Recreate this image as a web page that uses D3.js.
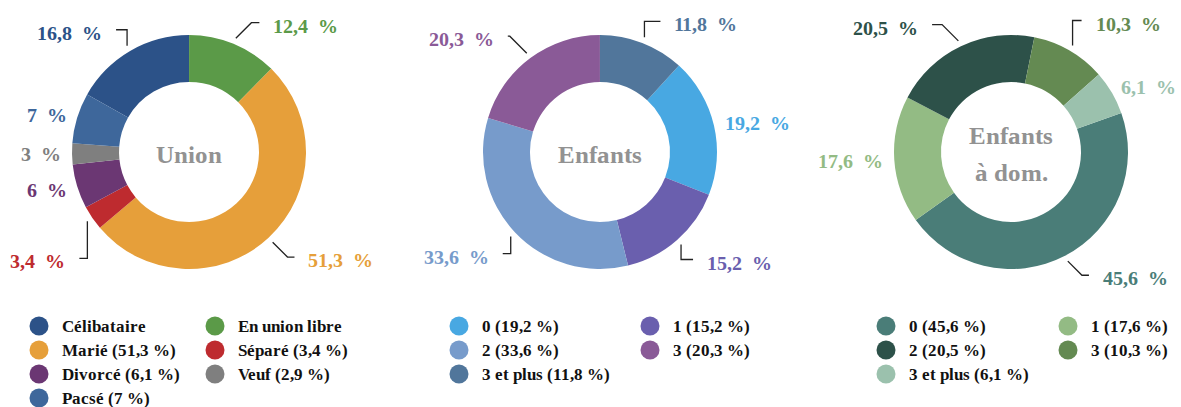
<!DOCTYPE html>
<html>
<head>
<meta charset="utf-8">
<script src="https://cdn.jsdelivr.net/npm/d3@7"></script>
<style>
  @font-face { font-family: "CMLike"; src: local("Liberation Serif Bold"), local("LiberationSerif-Bold"); font-weight: bold; }
  @font-face { font-family: "CMLike"; src: local("Liberation Serif Bold"), local("LiberationSerif-Bold"); font-weight: normal; }
</style>
</head>
<body style="margin:0">
<svg id="donuts" width="1181" height="407"></svg>
<script>
// --- Union
var unionNames = ["Célibataire", "En union libre", "Marié", "Séparé", "Divorcé", "Veuf", "Pacsé"];
var unionValues = [16.8, 12.4, 51.3, 3.4, 6.1, 2.9, 7];
var unionLabels = ["16,8 %", "12,4 %", "51,3 %", "3,4 %", "6 %", "3 %", "7 %"];
var unionLegend = ["Célibataire", "En union libre", "Marié (51,3 %)", "Séparé (3,4 %)",
    "Divorcé (6,1 %)", "Veuf (2,9 %)", "Pacsé (7 %)"];

// --- Enfants
var enfantsNames = ["0", "1", "2", "3", "3 et plus"];
var enfantsValues = [19.2, 15.2, 33.6, 20.3, 11.8];
var enfantsLabels = ["19,2 %", "15,2 %", "33,6 %", "20,3 %", "11,8 %"];
var enfantsLegend = ["0 (19,2 %)", "1 (15,2 %)", "2 (33,6 %)", "3 (20,3 %)", "3 et plus (11,8 %)"];

// --- Enfants à domicile
var domNames = ["0", "1", "2", "3", "3 et plus"];
var domValues = [45.6, 17.6, 20.5, 10.3, 6.1];
var domLabels = ["45,6 %", "17,6 %", "20,5 %", "10,3 %", "6,1 %"];
var domLegend = ["0 (45,6 %)", "1 (17,6 %)", "2 (20,5 %)", "3 (10,3 %)", "3 et plus (6,1 %)"];

var charts = [
    {
        title: ["Union"], names: unionNames, values: unionValues, labels: unionLabels, legend: unionLegend,
        colors: ["#2c5288", "#5b9a48", "#e69f3a", "#be2b2f", "#6b3773", "#7f7f7f", "#3e679b"],
        start: -60.5,
        // leader line: [kind, length, horizontal tail]
        leaders: [["v", 16, 11], ["d", 22, 8], ["d", 21, 7], ["v", 37, 8], null, null, null],
        legendX: [-150, 26]
    },
    {
        title: ["Enfants"], names: enfantsNames, values: enfantsValues, labels: enfantsLabels, legend: enfantsLegend,
        colors: ["#48a8e2", "#6a5fae", "#779bcb", "#8a5a97", "#51769b"],
        start: 42.4,
        leaders: [null, ["v", 15, 12], ["v", 17, 8], ["d", 24, 2], ["v", 16, 16]],
        legendX: [-141, 50]
    },
    {
        title: ["Enfants", "à dom."], names: domNames, values: domValues, labels: domLabels, legend: domLegend,
        colors: ["#4a7d78", "#93bb84", "#2d5149", "#648a52", "#9bc1ad"],
        start: 70.5,
        leaders: [["d", 20, 7], null, ["d", 23, 10], ["v", 25, 9], null],
        legendX: [-125, 57]
    }
];

var outerR = 117, innerR = 70, leaderR = 123, labelR = 128;
var fontStack = "CMLike, 'Liberation Serif', 'Times New Roman', 'Noto Serif', serif";

var svg = d3.select("#donuts");

var arc = d3.arc().innerRadius(innerR).outerRadius(outerR);

// position of each donut
var xCenter = d3.scalePoint().domain(d3.range(charts.length)).range([189, 1011]);
var cy = 152;

function polar(a, r) {
    return [Math.sin(a) * r, -Math.cos(a) * r];
}

function serifText(sel, size) {
    return sel.style("font-family", fontStack, "important")
        .style("font-weight", "bold")
        .style("font-size", size + "px");
}

charts.forEach(function (c, ci) {
    var cx = xCenter(ci);
    var color = d3.scaleOrdinal().domain(c.names).range(c.colors);
    var a0 = c.start * Math.PI / 180;
    var pie = d3.pie().sort(null).startAngle(a0).endAngle(a0 + 2 * Math.PI);
    var arcs = pie(c.values);

    var g = svg.append("g")
        .attr("transform", "translate(" + cx + "," + cy + ")");

    // slices
    g.selectAll("path.slice")
        .data(arcs)
        .enter().append("path")
        .attr("class", "slice")
        .attr("d", arc)
        .attr("fill", function (d, i) { return color(c.names[i]); });

    // labels with leader lines
    arcs.forEach(function (d, i) {
        var mid = (d.startAngle + d.endAngle) / 2;
        var sx = Math.sin(mid) >= 0 ? 1 : -1;
        var sy = -Math.cos(mid) >= 0 ? 1 : -1;
        var txt = c.labels[i].replace(" %", "\u2002%");
        var ld = c.leaders[i];
        var lx, ly;
        if (ld) {
            var p0 = polar(mid, leaderR);
            var p1 = ld[0] === "v"
                ? [p0[0], p0[1] + sy * ld[1]]
                : [p0[0] + sx * ld[1] / Math.SQRT2, p0[1] + sy * ld[1] / Math.SQRT2];
            var p2 = [p1[0] + sx * ld[2], p1[1]];
            g.append("path")
                .attr("d", d3.line()([p0, p1, p2]))
                .attr("fill", "none")
                .attr("stroke", "#222")
                .attr("stroke-width", 1.3);
            lx = p2[0] + sx * 14;
            ly = p2[1] + 3;
        } else {
            var p = polar(mid, labelR);
            lx = p[0];
            ly = p[1];
        }
        serifText(g.append("text"), 20)
            .attr("x", lx)
            .attr("y", ly)
            .attr("dominant-baseline", "central")
            .attr("text-anchor", sx > 0 ? "start" : "end")
            .attr("fill", color(c.names[i]))
            .text(txt);
    });

    // title in the hole
    var tl = c.title.length;
    serifText(g.selectAll("text.title")
        .data(c.title)
        .enter().append("text"), 25)
        .attr("class", "title")
        .attr("x", 0)
        .attr("y", function (t, i) { return (i - (tl - 1) / 2) * 37 + 2; })
        .attr("dominant-baseline", "central")
        .attr("text-anchor", "middle")
        .attr("fill", "#929292")
        .text(function (t) { return t; });

    // legend, two columns, row-major
    var leg = svg.append("g")
        .attr("transform", "translate(" + cx + ",0)");
    var item = leg.selectAll("g.item")
        .data(c.legend)
        .enter().append("g")
        .attr("class", "item")
        .attr("transform", function (t, i) {
            return "translate(" + c.legendX[i % 2] + "," + (326 + Math.floor(i / 2) * 24) + ")";
        });
    item.append("circle")
        .attr("r", 9.5)
        .attr("fill", function (t, i) { return color(c.names[i]); });
    serifText(item.append("text"), 16.5)
        .attr("x", 23)
        .attr("dominant-baseline", "central")
        .attr("fill", "#111")
        .text(function (t) { return t; });
});
</script>
</body>
</html>
